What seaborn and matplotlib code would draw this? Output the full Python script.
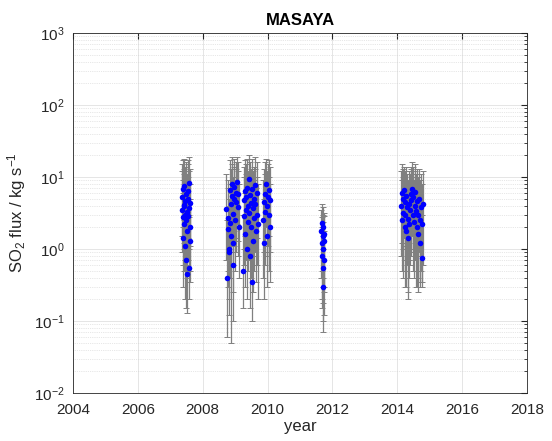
import matplotlib
matplotlib.use("Agg")
import matplotlib.pyplot as plt
import matplotlib.ticker as mticker
import numpy as np
import pandas as pd
import seaborn as sns

# 2007 campaign
year_2007 = [2007.36, 2007.37, 2007.38, 2007.39, 2007.40, 2007.41, 2007.42, 2007.43, 2007.44,
             2007.45, 2007.46, 2007.47, 2007.48, 2007.49, 2007.50, 2007.51, 2007.52, 2007.53,
             2007.54, 2007.55, 2007.56, 2007.57, 2007.58, 2007.59, 2007.60, 2007.61, 2007.62]
flux_2007 = [3.5, 5.2, 2.8, 1.4, 6.8, 4.1, 2.2, 3.9, 7.5, 3.0, 1.1, 4.6, 2.5, 0.7, 5.8, 3.3, 1.8,
             0.45, 4.9, 2.9, 6.3, 0.55, 3.7, 8.2, 2.0, 4.4, 1.3]
lo_2007 = [0.9, 1.5, 0.6, 0.3, 2.0, 1.0, 0.5, 1.2, 2.5, 0.7, 0.2, 1.3, 0.6, 0.15, 1.8, 0.8, 0.4,
           0.13, 1.4, 0.7, 2.0, 0.2, 1.0, 3.0, 0.5, 1.1, 0.35]
hi_2007 = [12, 15, 9, 6, 17, 13, 8, 11, 18, 10, 5, 14, 9, 3, 16, 11, 7, 2.5, 15, 10, 17, 2.8, 12,
           19, 8, 13, 5]

# 2008-2010 campaign
year_2009 = [2008.72, 2008.75, 2008.77, 2008.79, 2008.80, 2008.82, 2008.84, 2008.85, 2008.86,
             2008.88, 2008.89, 2008.90, 2008.92, 2008.93, 2008.95, 2008.96, 2008.98, 2009.00,
             2009.02, 2009.04, 2009.06, 2009.08, 2009.10, 2009.12,
             2009.25, 2009.27, 2009.28, 2009.30, 2009.31, 2009.33, 2009.34, 2009.36, 2009.37,
             2009.39, 2009.40, 2009.42, 2009.43, 2009.45, 2009.46, 2009.48, 2009.49, 2009.51,
             2009.52, 2009.54, 2009.55, 2009.57, 2009.58, 2009.60, 2009.62, 2009.64, 2009.66,
             2009.68, 2009.70,
             2009.86, 2009.88, 2009.90, 2009.92, 2009.93, 2009.95, 2009.97, 2009.99, 2010.01,
             2010.03, 2010.05, 2010.07, 2010.09]
flux_2009 = [3.6, 0.4, 1.9, 2.7, 1.0, 0.9, 2.3, 6.5, 4.2, 1.5, 5.5, 8.0, 3.1, 1.2, 0.6, 7.2, 5.0,
             2.5, 6.0, 4.5, 8.5, 3.8, 5.8, 2.0,
             0.5, 4.8, 2.9, 6.3, 1.6, 3.5, 5.2, 1.0, 7.0, 4.0, 2.4, 9.5, 3.2, 5.6, 0.8, 4.4, 2.0,
             6.8, 0.35, 3.7, 1.3, 5.0, 2.7, 7.8, 4.2, 1.8, 3.0, 6.0, 2.2,
             2.5, 4.5, 1.2, 5.8, 3.3, 8.0, 4.0, 1.5, 5.2, 3.0, 6.5, 2.0, 4.8]
lo_2009 = [0.7, 0.06, 0.3, 0.5, 0.2, 0.12, 0.4, 1.5, 0.9, 0.05, 1.2, 2.0, 0.6, 0.25, 0.1, 1.8,
           1.1, 0.5, 1.4, 0.9, 2.2, 0.8, 1.3, 0.4,
           0.15, 1.0, 0.6, 1.5, 0.3, 0.7, 1.2, 0.2, 1.8, 0.9, 0.5, 2.5, 0.7, 1.3, 0.15, 1.0, 0.4,
           1.6, 0.1, 0.8, 0.25, 1.1, 0.5, 2.0, 0.9, 0.35, 0.6, 1.4, 0.2,
           0.4, 0.9, 0.2, 1.3, 0.6, 2.0, 0.8, 0.3, 1.1, 0.5, 1.5, 0.35, 0.9]
hi_2009 = [11, 2.5, 7, 9, 5, 4, 8, 17, 13, 6, 15, 19, 10, 5, 3, 18, 14, 9, 16, 13, 19, 12, 16, 8,
           3, 14, 10, 17, 6, 11, 15, 5, 18, 12, 9, 20, 11, 16, 4, 13, 8, 18, 2.2, 12, 5, 14, 9,
           19, 13, 7, 10, 16, 8,
           9, 13, 5, 16, 11, 18, 12, 6, 15, 10, 17, 8, 14]

# 2011 campaign
year_2011 = [2011.66, 2011.67, 2011.68, 2011.69, 2011.70, 2011.70, 2011.71, 2011.72, 2011.72,
             2011.73, 2011.74, 2011.75]
flux_2011 = [1.8, 1.2, 2.3, 0.8, 1.5, 0.55, 2.0, 1.0, 0.3, 1.6, 0.7, 1.3]
lo_2011 = [0.4, 0.2, 0.5, 0.15, 0.3, 0.1, 0.4, 0.18, 0.07, 0.3, 0.12, 0.25]
hi_2011 = [3.5, 2.8, 4.2, 2.0, 3.0, 1.5, 3.8, 2.4, 1.0, 3.2, 1.8, 2.9]

# 2014 campaign
year_2014 = [2014.12, 2014.14, 2014.15, 2014.17, 2014.18, 2014.20, 2014.22, 2014.23, 2014.25,
             2014.27, 2014.28, 2014.30, 2014.32, 2014.33, 2014.35, 2014.37, 2014.39, 2014.41,
             2014.43, 2014.45, 2014.47, 2014.49, 2014.51, 2014.53, 2014.55, 2014.57, 2014.59,
             2014.61, 2014.63, 2014.65, 2014.67, 2014.69, 2014.71, 2014.73, 2014.75, 2014.77,
             2014.79]
flux_2014 = [4.0, 6.0, 2.5, 5.0, 3.2, 6.5, 2.0, 4.5, 3.0, 5.5, 1.8, 3.8, 2.6, 1.4, 4.2, 2.2, 3.5,
             5.8, 4.8, 6.8, 3.0, 5.2, 2.4, 4.0, 6.2, 3.4, 2.0, 4.6, 1.6, 3.0, 5.0, 2.5, 1.2, 3.8,
             0.75, 2.2, 4.2]
lo_2014 = [0.8, 1.2, 0.5, 1.0, 0.4, 1.4, 0.3, 0.7, 0.5, 1.1, 0.3, 0.6, 0.2, 0.25, 0.7, 0.4, 0.6,
           1.0, 0.8, 1.5, 0.5, 0.9, 0.4, 0.7, 1.2, 0.3, 0.3, 0.8, 0.25, 0.4, 0.9, 0.35, 0.3, 0.5,
           0.3, 0.35, 0.6]
hi_2014 = [12, 15, 9, 13, 10, 14, 8, 12, 10, 14, 7, 11, 9, 6, 12, 8, 11, 14, 13, 16, 10, 14, 9,
           12, 15, 11, 8, 13, 6, 10, 13, 9, 5, 11, 3, 8, 12]

df = pd.DataFrame({
    "year": year_2007 + year_2009 + year_2011 + year_2014,
    "flux": flux_2007 + flux_2009 + flux_2011 + flux_2014,
    "lo": lo_2007 + lo_2009 + lo_2011 + lo_2014,
    "hi": hi_2007 + hi_2009 + hi_2011 + hi_2014,
})

sns.set_style("white")
plt.rcParams["font.family"] = ["Liberation Sans", "DejaVu Sans"]
plt.rcParams["mathtext.fontset"] = "custom"
plt.rcParams["mathtext.rm"] = "Liberation Sans"
plt.rcParams["mathtext.it"] = "Liberation Sans:italic"
plt.rcParams["mathtext.default"] = "regular"

fig = plt.figure(figsize=(5.52, 4.41), dpi=100)
ax = fig.add_axes([0.132, 0.109, 0.823, 0.816])

# error bars (gray) then the flux points (blue)
yerr = np.array([df["flux"] - df["lo"], df["hi"] - df["flux"]])
ax.errorbar(df["year"], df["flux"], yerr=yerr, fmt="none", ecolor="#808080",
            elinewidth=0.9, capsize=2, capthick=0.7, zorder=2)
sns.scatterplot(data=df, x="year", y="flux", color="#0000ff", s=16, linewidth=0,
                ax=ax, zorder=3)

ax.set_yscale("log")
ax.set_xlim(2004, 2018)
ax.set_ylim(1e-2, 1e3)
ax.set_xticks(range(2004, 2019, 2))
ax.yaxis.set_major_locator(mticker.LogLocator(base=10, numticks=10))
ax.yaxis.set_minor_locator(mticker.LogLocator(base=10, subs=np.arange(2, 10), numticks=20))

ax.grid(True, which="major", color="#e0e0e0", linewidth=0.6)
ax.grid(True, which="minor", axis="y", color="#d0d0d0", linewidth=0.5, linestyle=":")
ax.set_axisbelow(True)

for s in ax.spines.values():
    s.set_color("#262626")
    s.set_linewidth(0.6)
ax.tick_params(which="both", direction="in", top=True, right=True, colors="#262626",
               labelsize=11, labelcolor="#262626")
ax.tick_params(which="major", length=4)
ax.tick_params(which="minor", length=2)
ax.tick_params(axis="y", pad=6)
ax.tick_params(axis="x", pad=7)

ax.set_xlabel("year", fontsize=12, color="#262626", labelpad=2)
ax.set_ylabel("SO$_2$ flux / kg s$^{-1}$", fontsize=12, color="#262626")
ax.set_title("MASAYA", fontsize=12, fontweight="bold", color="#000000")

fig.savefig("out.png", dpi=100)
